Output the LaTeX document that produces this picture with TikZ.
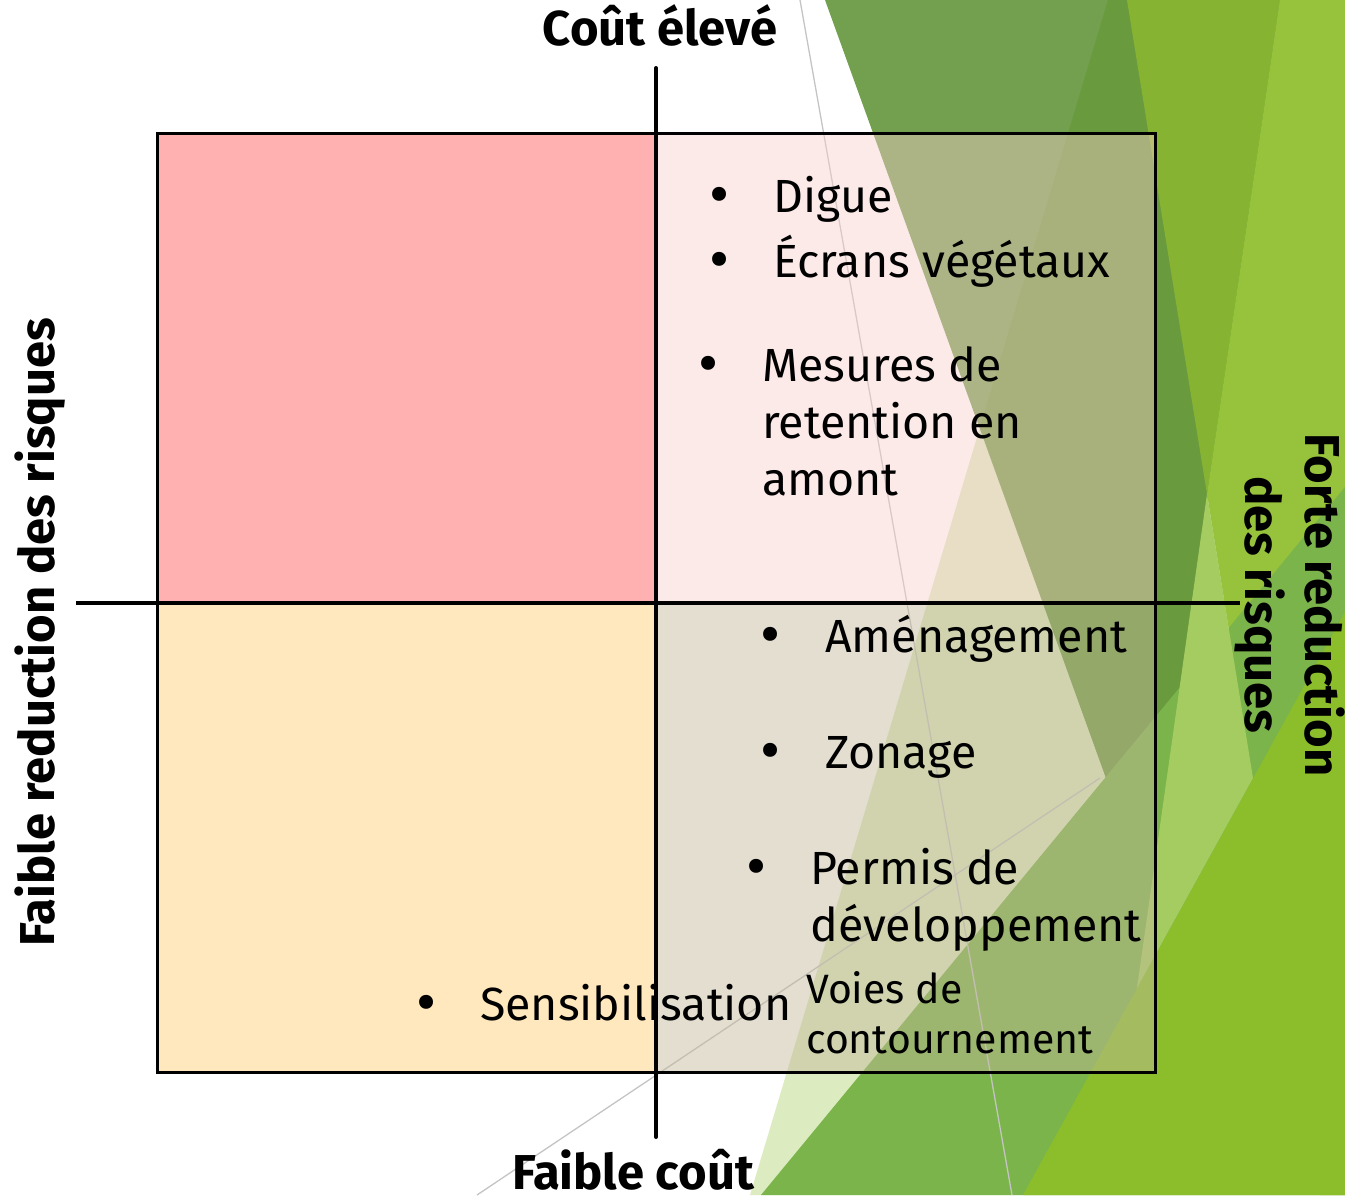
\documentclass[tikz,border=0pt]{standalone}
\usepackage{fontspec}
\setmainfont{Fira Sans}
\definecolor{bgPale}{HTML}{DDEBC0}
\definecolor{bgMid}{HTML}{72A04E}
\definecolor{bgDark}{HTML}{6A9A3E}
\definecolor{bgYG}{HTML}{86B432}
\definecolor{bgYGb}{HTML}{96C23C}
\definecolor{bgWedge}{HTML}{A5CC60}
\definecolor{bgGreen}{HTML}{7AB44A}
\definecolor{bgGreenb}{HTML}{8CBE2C}
\definecolor{thinGray}{HTML}{C4C4C4}
\definecolor{qTL}{HTML}{FFB0B0}
\definecolor{qBL}{HTML}{FFE8BD}
\definecolor{qTR}{HTML}{F8CFCC}
\definecolor{qBR}{HTML}{C3B99B}
\tikzset{
  quad/.style={draw=none, inner sep=0pt, outer sep=0pt, anchor=north west},
  frame/.style={draw=black, line width=3pt},
  axis/.style={draw=black, line width=4pt, line cap=round},
  itemtext/.style={font=\fontsize{46.5}{57}\selectfont, anchor=base west, inner sep=0pt, align=left},
  smalltext/.style={font=\fontsize{41}{50}\selectfont, anchor=base west, inner sep=0pt, align=left},
  bul/.style={font=\fontsize{62}{62}\selectfont, anchor=center, inner sep=0pt},
  axlabel/.style={font=\bfseries\fontsize{49}{56}\selectfont, inner sep=0pt},
  bgline/.style={draw=thinGray, line width=1.3pt}
}
\begin{document}
\begin{tikzpicture}[x=1pt,y=-1pt]
\useasboundingbox (0,0) rectangle (1345,1195);
% ---- background facets ----
\fill[bgPale] (1108,0) -- (1345,0) -- (1345,1195) -- (750,1195) -- cycle;
\fill[bgMid] (825,0) -- (1280,0) -- (1150,900) -- cycle;
\fill[bgDark] (1108,0) -- (1280,0) -- (1150,900) -- (980,427) -- cycle;
\fill[bgYG] (1127,0) -- (1280,0) -- (1207,494) -- cycle;
\fill[bgYGb] (1280,0) -- (1345,0) -- (1345,1195) -- (1320,1195) -- (1207,494) -- cycle;
\fill[bgGreen] (761,1195) -- (1345,487) -- (1345,1195) -- cycle;
\fill[bgGreenb] (1023,1195) -- (1345,612) -- (1345,1195) -- cycle;
\fill[bgWedge] (1207,494) -- (1253,778) -- (1137,988) -- cycle;
\draw[bgline] (800,0) -- (1012,1195);
\draw[bgline] (477,1195) -- (1100,778);
% ---- quadrants ----
\node[quad, fill=qTL, minimum width=499pt, minimum height=470pt] (qtl) at (157,133) {};
\node[quad, fill=qTR, fill opacity=0.44, minimum width=499pt, minimum height=470pt] (qtr) at (656,133) {};
\node[quad, fill=qBL, minimum width=499pt, minimum height=469pt] (qbl) at (157,603) {};
\node[quad, fill=qBR, fill opacity=0.47, minimum width=499pt, minimum height=469pt] (qbr) at (656,603) {};
\draw[frame] (qtl.north west) rectangle (qbr.south east);
% ---- axes ----
\coordinate (vtop) at (656,68);
\coordinate (vbot) at (656,1137);
\coordinate (hleft) at (76,603);
\coordinate (hright) at (1240,603);
\draw[axis] (vtop) -- (vbot);
\draw[axis, line width=3.5pt, line cap=butt] (hleft) -- (hright);
% ---- axis labels ----
\node[axlabel, anchor=base] (ltop) at (660,45) {Coût élevé};
\node[axlabel, anchor=base] (lbot) at (633,1189) {Faible coût};
\node[axlabel, rotate=90] (lleft) at (40,632) {Faible reduction des risques};
\node[axlabel, rotate=-90, align=center, font=\bfseries\fontsize{49}{60}\selectfont] (lright) at (1290,605) {Forte reduction\\des risques};
% ---- items ----
\node[bul] (b1) at (720,201) {•};
\node[itemtext] (t1) at (773,212) {Digue};
\node[bul] (b2) at (720,266) {•};
\node[itemtext] (t2) at (773,277) {Écrans végétaux};
\node[bul] (b3) at (709,370) {•};
\node[itemtext] (t3) at (762,495) {Mesures de\\retention en\\amont};
\node[bul] (b4) at (771,641) {•};
\node[itemtext] (t4) at (825,652) {Aménagement};
\node[bul] (b5) at (771,757) {•};
\node[itemtext] (t5) at (825,768) {Zonage};
\node[bul] (b6) at (757,873) {•};
\node[itemtext] (t6) at (810,941) {Permis de\\développement};
\node[bul] (b7) at (427,1009) {•};
\node[itemtext] (t7) at (480,1020) {Sensibilisation};
\node[smalltext] (t8) at (806,1053) {Voies de\\contournement};
\end{tikzpicture}
\end{document}
